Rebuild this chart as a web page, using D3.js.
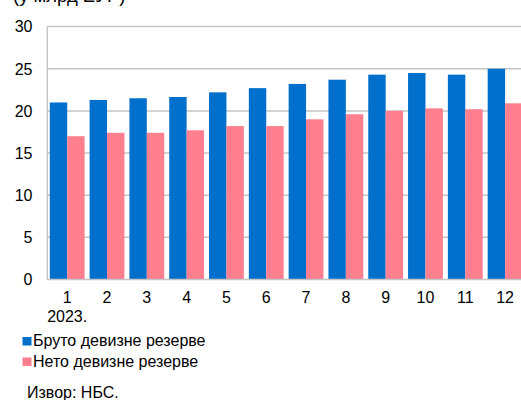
<!DOCTYPE html>
<html><head><meta charset="utf-8">
<script src="https://cdn.jsdelivr.net/npm/d3@7"></script>
<style>body{margin:0;background:#fff}svg{display:block;font-family:"Liberation Sans",Arial,sans-serif}</style>
</head><body>
<script>
const months = ["1","2","3","4","5","6","7","8","9","10","11","12"];
const gross = [21.0,21.3,21.5,21.65,22.2,22.7,23.2,23.7,24.3,24.5,24.3,25.0];
const net = [17.0,17.4,17.4,17.7,18.2,18.2,19.0,19.6,20.0,20.3,20.2,20.9];
const yTicks = [0,5,10,15,20,25,30];
const seriesNames = ["Бруто девизне резерве","Нето девизне резерве"];
const colors = ["#0070CC","#FF7F8F"];

const W=521,H=400;
const svg=d3.select("body").append("svg").attr("width",W).attr("height",H);
const left=47.3, right=525, y0=279.5, y30=26.6;
const x=d3.scaleBand().domain(months).range([left,right]).paddingInner(0.125).paddingOuter(0.0625);
const xs=d3.scaleBand().domain([0,1]).range([0,x.bandwidth()]);
const y=d3.scaleLinear().domain([0,30]).range([y0,y30]);

// title (cut off at top, as in the reference)
svg.append("text").attr("x",13).attr("y",1.5).attr("font-size",18.5).attr("fill","#000").text("(у млрд ЕУР)");

// gridlines
svg.append("g").selectAll("line").data(yTicks.filter(d=>d>0)).join("line")
  .attr("x1",left).attr("x2",W).attr("y1",d=>y(d)).attr("y2",d=>y(d))
  .attr("stroke","#c4c4c4").attr("stroke-width",1.5);

// bars
const data=[gross,net];
const g=svg.append("g");
months.forEach((m,i)=>{
  data.forEach((s,j)=>{
    g.append("rect").attr("x",x(m)+xs(j)).attr("width",xs.bandwidth())
      .attr("y",y(s[i])).attr("height",y(0)-y(s[i])).attr("fill",colors[j]);
  });
});

// axes lines
svg.append("line").attr("x1",left).attr("x2",left).attr("y1",y30).attr("y2",y0+0.5).attr("stroke","#c4c4c4").attr("stroke-width",1.5);
svg.append("line").attr("x1",left).attr("x2",W).attr("y1",y0).attr("y2",y0).attr("stroke","#c4c4c4").attr("stroke-width",1.5);

// y labels
svg.append("g").selectAll("text").data(yTicks).join("text")
  .attr("x",32.5).attr("y",d=>y(d)+5.8).attr("text-anchor","end").attr("font-size",16).attr("fill","#000").text(d=>d);

// x labels
svg.append("g").selectAll("text").data(months).join("text")
  .attr("x",d=>x(d)+x.bandwidth()/2).attr("y",303.3).attr("text-anchor","middle").attr("font-size",16).attr("fill","#000").text(d=>d);
svg.append("text").attr("x",x("1")+x.bandwidth()/2).attr("y",322.3).attr("text-anchor","middle").attr("font-size",16).attr("fill","#000").text("2023.");

// legend
seriesNames.forEach((n,i)=>{
  const ly=337+i*20.5;
  svg.append("rect").attr("x",22.5).attr("y",ly).attr("width",9).attr("height",8.5).attr("fill",colors[i]);
  svg.append("text").attr("x",33).attr("y",ly+9.2).attr("font-size",16).attr("fill","#000").text(n);
});
svg.append("text").attr("x",27).attr("y",397.7).attr("font-size",16).attr("fill","#000").text("Извор: НБС.");
</script>
</body></html>
